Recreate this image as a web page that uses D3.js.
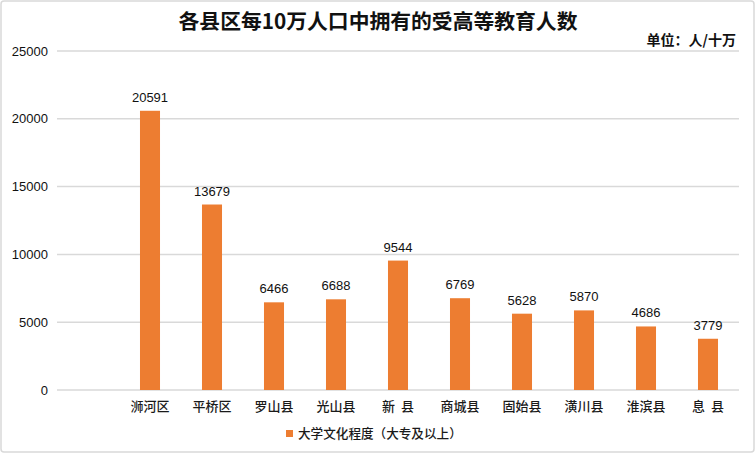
<!DOCTYPE html>
<html><head><meta charset="utf-8">
<script src="https://cdn.jsdelivr.net/npm/d3@7"></script>
<style>body{margin:0;background:#fff;} svg{display:block;}</style>
</head><body>
<svg id="c" width="756" height="454"></svg>
<script>
const categories = ["浉河区","平桥区","罗山县","光山县","新  县","商城县","固始县","潢川县","淮滨县","息  县"];
const values = [20591,13679,6466,6688,9544,6769,5628,5870,4686,3779];
const yTicks = [0,5000,10000,15000,20000,25000];
const title = "各县区每10万人口中拥有的受高等教育人数";
const unitText = "单位：人/十万";
const seriesName = "大学文化程度（大专及以上）";

const svg = d3.select("#c");
const numFont = "'Liberation Sans', Arial, sans-serif";
const cjkFont = "'Noto Sans CJK SC', 'Liberation Sans', sans-serif";

svg.append("rect").attr("x",1).attr("y",1).attr("width",753).attr("height",451)
  .attr("rx",3).attr("fill","#fff").attr("stroke","#d9d9d9").attr("stroke-width",1.5);

const y = d3.scaleLinear().domain([0,25000]).range([390,51]);
const x = d3.scaleBand().domain(categories).range([119,739]).paddingInner(0.677).paddingOuter(0.3385);

// grid
svg.append("g").selectAll("line").data(yTicks).join("line")
  .attr("x1",57).attr("x2",739).attr("y1",d=>y(d)).attr("y2",d=>y(d))
  .attr("stroke","#d9d9d9").attr("stroke-width",1.5);

// y labels
svg.append("g").selectAll("text").data(yTicks).join("text")
  .attr("x",48).attr("y",d=>y(d)).attr("dy","0.35em").attr("text-anchor","end")
  .attr("font-family",numFont).attr("font-size",13).attr("fill","#111").text(d=>d);

// bars
svg.append("g").selectAll("rect").data(values).join("rect")
  .attr("x",(d,i)=>x(categories[i])).attr("width",x.bandwidth())
  .attr("y",d=>y(d)).attr("height",d=>y(0)-y(d)).attr("fill","#ed7d31");

// data labels
svg.append("g").selectAll("text").data(values).join("text")
  .attr("x",(d,i)=>x(categories[i])+x.bandwidth()/2).attr("y",d=>y(d)-9)
  .attr("text-anchor","middle").attr("font-family",numFont).attr("font-size",13)
  .attr("fill","#111").text(d=>d);

// category labels
svg.append("g").selectAll("text").data(categories).join("text")
  .attr("x",d=>x(d)+x.bandwidth()/2).attr("y",406).attr("dy","0.35em")
  .attr("text-anchor","middle").attr("font-family",cjkFont).attr("font-size",13)
  .attr("font-weight",500).attr("fill","#1a1a1a").style("white-space","pre").text(d=>d);

// title
svg.append("text").attr("x",378).attr("y",22).attr("dy","0.35em").attr("text-anchor","middle")
  .attr("font-family",cjkFont).attr("font-size",20.8).attr("font-weight","bold").attr("fill","#111").text(title);

// unit
svg.append("text").attr("x",736).attr("y",40).attr("dy","0.35em").attr("text-anchor","end")
  .attr("font-family",cjkFont).attr("font-size",14).attr("font-weight","bold").attr("fill","#111").text(unitText);

// legend
svg.append("rect").attr("x",286).attr("y",430).attr("width",7).attr("height",7).attr("fill","#ed7d31");
svg.append("text").attr("x",298).attr("y",434).attr("dy","0.35em")
  .attr("font-family",cjkFont).attr("font-size",12.6).attr("font-weight",500).attr("fill","#1a1a1a").text(seriesName);
</script>
</body></html>
